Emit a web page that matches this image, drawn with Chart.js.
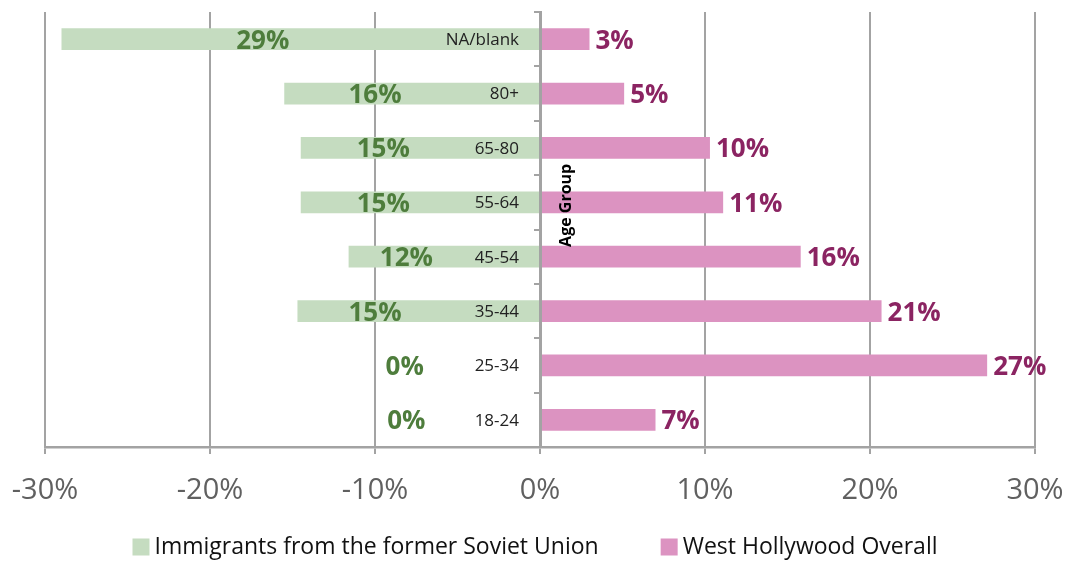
<!DOCTYPE html>
<html>
<head>
<meta charset="utf-8">
<title>Age Group</title>
<script src="https://cdn.jsdelivr.net/npm/chart.js@4.4.0/dist/chart.umd.min.js"></script>
<style>
    html, body { margin: 0; padding: 0; background: #ffffff; }
    #wrap { width: 1068px; height: 561px; }
</style>
</head>
<body>
<div id="wrap"><canvas id="ageChart" width="1068" height="561"></canvas></div>
<script>
const ageGroups = ["NA/blank", "80+", "65-80", "55-64", "45-54", "35-44", "25-34", "18-24"];
const sovietShare = [29.0, 15.5, 14.5, 14.5, 11.6, 14.7, 0, 0];
const westHollywoodShare = [3.0, 5.1, 10.3, 11.1, 15.8, 20.7, 27.1, 7.0];
const seriesNames = ["Immigrants from the former Soviet Union", "West Hollywood Overall"];
const xTicks = [-30, -20, -10, 0, 10, 20, 30];

// axis value where each Soviet label is centred
const sovietLabelAt = [-16.8, -10.0, -9.5, -9.5, -8.1, -10.0, -8.2, -8.1];

const GREEN = "#C5DCC0";
const GREEN_TEXT = "#4E7D3C";
const PINK = "#DC93C1";
const PINK_TEXT = "#8B2462";
const GRID = "#A3A3A3";
const FONT = '"Open Sans", "DejaVu Sans", sans-serif';

const pct = v => Math.round(Math.abs(v)) + "%";

// ======================================
// Value labels, category names, axis title
// ======================================

const barLabels = {
    id: "barLabels",
    afterDatasetsDraw(chart) {
        const ctx = chart.ctx;
        const x = chart.scales.x;
        const y = chart.scales.y;
        const x0 = x.getPixelForValue(0);
        const pinkBars = chart.getDatasetMeta(1).data;

        ctx.save();
        ctx.textBaseline = "middle";

        ageGroups.forEach((name, i) => {
            const cy = y.getPixelForValue(i) + 1;

            ctx.font = "17px " + FONT;
            ctx.fillStyle = "#222222";
            ctx.textAlign = "right";
            ctx.fillText(name, x0 - 21, cy);

            ctx.font = "bold 26px " + FONT;
            ctx.fillStyle = GREEN_TEXT;
            ctx.textAlign = "center";
            ctx.fillText(pct(sovietShare[i]), x.getPixelForValue(sovietLabelAt[i]), cy + 1);

            ctx.fillStyle = PINK_TEXT;
            ctx.textAlign = "left";
            ctx.fillText(pct(westHollywoodShare[i]), pinkBars[i].x + 6, cy + 1);
        });

        // rotated axis title beside the zero line
        ctx.translate(x0 + 26, y.getPixelForValue(3) + 3);
        ctx.rotate(-Math.PI / 2);
        ctx.font = "bold 16px " + FONT;
        ctx.fillStyle = "#000000";
        ctx.textAlign = "center";
        ctx.fillText("Age Group", 0, 0);

        ctx.restore();
    }
};

// ======================================
// Legend row under the axis
// ======================================

const legendRow = {
    id: "legendRow",
    afterDraw(chart) {
        const ctx = chart.ctx;
        const box = 17;
        const gap = 5;
        const spacing = 62;
        const cy = 547;

        ctx.save();
        ctx.font = "23px " + FONT;
        ctx.textBaseline = "middle";
        ctx.textAlign = "left";

        const items = chart.data.datasets.map(ds => ({
            text: ds.label,
            color: ds.backgroundColor,
            w: box + gap + ctx.measureText(ds.label).width
        }));
        const total = items.reduce((s, it) => s + it.w, 0) + spacing * (items.length - 1);
        let left = chart.width / 2 + 1 - total / 2;

        items.forEach(it => {
            ctx.fillStyle = it.color;
            ctx.fillRect(left, cy - box / 2, box, box);
            ctx.fillStyle = "#111111";
            ctx.fillText(it.text, left + box + gap, cy);
            left += it.w + spacing;
        });

        ctx.restore();
    }
};

const ctx = document.getElementById("ageChart").getContext("2d");

new Chart(ctx, {

    type: "bar",

    data: {
        labels: ageGroups,
        datasets: [
            {
                label: seriesNames[0],
                data: sovietShare.map(v => -v),
                backgroundColor: GREEN,
                borderWidth: 0
            },
            {
                label: seriesNames[1],
                data: westHollywoodShare,
                backgroundColor: PINK,
                borderWidth: 0
            }
        ]
    },

    options: {
        indexAxis: "y",
        responsive: false,
        animation: false,
        devicePixelRatio: 1,
        barPercentage: 0.4,
        categoryPercentage: 1,
        layout: {
            padding: { top: 12, left: 45, right: 33, bottom: 33 }
        },
        plugins: {
            legend: { display: false },
            tooltip: { enabled: false }
        },
        scales: {
            x: {
                type: "linear",
                min: xTicks[0],
                max: xTicks[xTicks.length - 1],
                stacked: true,
                afterBuildTicks: scale => {
                    scale.ticks = xTicks.map(v => ({ value: v }));
                },
                grid: {
                    color: GRID,
                    lineWidth: 2,
                    tickLength: 7
                },
                border: { color: GRID, width: 2.5 },
                ticks: {
                    font: { family: FONT, size: 29, lineHeight: 2.55 },
                    color: "#606060",
                    padding: 0,
                    maxRotation: 0,
                    callback: v => v + "%"
                }
            },
            y: {
                type: "category",
                stacked: true,
                position: { x: 0 },
                offset: true,
                grid: {
                    drawOnChartArea: false,
                    offset: true,
                    color: GRID,
                    lineWidth: 2,
                    tickLength: 5,
                    z: 1
                },
                border: { color: GRID, width: 3, z: 1 },
                ticks: { display: false }
            }
        }
    },

    plugins: [barLabels, legendRow]

});
</script>
</body>
</html>
